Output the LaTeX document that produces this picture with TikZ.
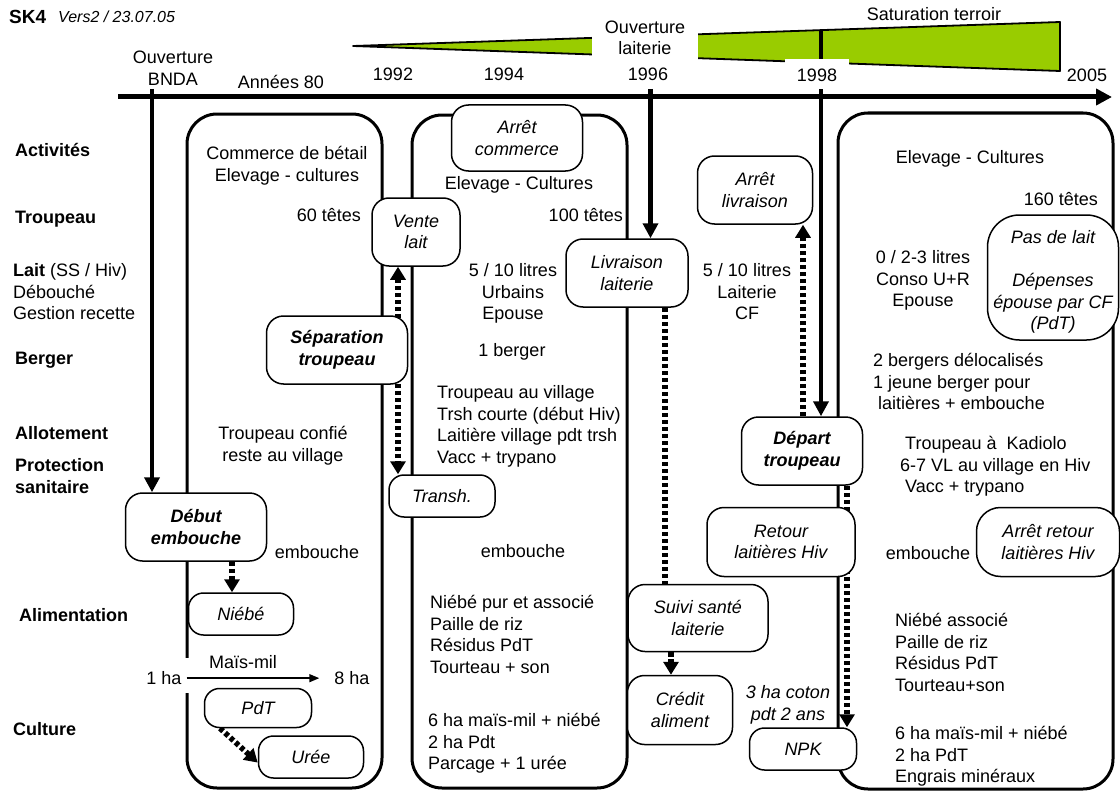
\documentclass[tikz,border=0pt]{standalone}
\usepackage{fontspec}
\setmainfont{Liberation Sans}
\usetikzlibrary{arrows.meta}
\pgfdeclarelayer{bg}
\pgfdeclarelayer{arr}
\pgfsetlayers{bg,arr,main}
\definecolor{wedgegreen}{HTML}{99CC00}
\newcommand{\fl}{\rule{0pt}{14pt}}
\begin{document}
\begin{tikzpicture}[x=1pt,y=-1pt,
  txt/.style={inner sep=0pt, font=\fontsize{18}{21.5}\selectfont, align=center},
  txtl/.style={txt, align=left, anchor=north west},
  lbl/.style={inner sep=0pt, font=\fontsize{18}{21.5}\selectfont\bfseries, anchor=base west},
  ev/.style={draw, line width=1.5pt, rounded corners=17pt, fill=white, inner sep=0pt, align=center, font=\fontsize{18}{21.5}\selectfont\itshape},
  evb/.style={ev, font=\fontsize{18}{21.5}\selectfont\bfseries\itshape},
  panel/.style={draw, line width=3pt, rounded corners=30pt},
  bigarrow/.style={line width=4.6pt, -{Triangle[length=15pt,width=15pt]}},
  dotarrow/.style={line width=5.5pt, dash pattern=on 4.3pt off 2.7pt},
  dottip/.style={-{Triangle[length=13pt,width=15pt]}},
  thinarrow/.style={line width=1.5pt, -{Triangle[length=10pt,width=8pt]}}
]
\useasboundingbox (0,0) rectangle (1120,792);

\begin{pgfonlayer}{bg}
  \fill[white] (0,0) rectangle (1120,792);
  % wedge
  \draw[line width=1.8pt, line join=round, fill=wedgegreen] (353,46) -- (1060,22) -- (1060,71) -- cycle;
  % time axis
  \coordinate (axs) at (118,97);
  \coordinate (axe) at (1112,97);
  \draw[line width=5pt, -{Triangle[length=16pt,width=16pt]}] (axs) -- (axe);
  % panels
  \draw[panel] (187,114) rectangle (382,788);
  \draw[panel] (412,115) rectangle (627,788);
  \draw[panel] (838,113) rectangle (1113,789);
  \fill[white] (182,658) rectangle (192,693);
\end{pgfonlayer}

% header
\node[anchor=base west, inner sep=0pt, font=\fontsize{19}{22}\selectfont\bfseries] (sk) at (9,24) {SK4};
\node[anchor=base west, inner sep=0pt, font=\fontsize{16}{19}\selectfont\itshape] (vers) at (58,23) {Vers2 / 23.07.05};
\node[txt, anchor=north] (obnda) at (173,49.6) {\fl Ouverture\\BNDA};
\node[txt, anchor=base] (a80) at (281,88.3) {Années 80};
\node[txt, anchor=base] (y92) at (393,81) {1992};
\node[txt, anchor=base] (y94) at (504,81) {1994};
\node[txt, anchor=base] (y96) at (648,81) {1996};
\node[txt, fill=white, minimum width=64pt, minimum height=30pt, text height=13.1pt, text depth=0pt] (y98) at (817,74.5) {1998};
\node[txt, anchor=base] (y05) at (1087,81.5) {2005};
\node[txt, anchor=base] (sat) at (934,20.6) {Saturation terroir};
\node[txt, fill=white, minimum width=106pt, minimum height=48pt] (olait) at (645,38) {Ouverture\\laiterie};

% row labels
\node[lbl] (lact) at (15,156.6) {Activités};
\node[lbl] (ltro) at (15,223.6) {Troupeau};
\node[txtl] (llait) at (13,262.6) {\fl\textbf{Lait} (SS / Hiv)\\Débouché\\Gestion recette};
\node[lbl] (lber) at (15,364.6) {Berger};
\node[lbl] (lall) at (15,439.6) {Allotement};
\node[txtl, font=\fontsize{18}{21.5}\selectfont\bfseries] (lpro) at (15,457.6) {\fl Protection\\sanitaire};
\node[lbl] (lali) at (19,621.6) {Alimentation};
\node[lbl] (lcul) at (13,735.6) {Culture};

% panel 1
\node[txt, anchor=north] (b1act) at (287,145.6) {\fl Commerce de bétail\\Elevage - cultures};
\node[txt, anchor=base east] (b1tr) at (361,221.6) {60 têtes};
\node[txt, anchor=north] (b1all) at (283,425.6) {\fl Troupeau confié\\reste au village};
\node[txt, anchor=base] (b1emb) at (317,558.6) {embouche};
\node[txt, anchor=base] (mais) at (243,668.6) {Maïs-mil};
\node[txt, anchor=base] (oneha) at (164,684.6) {1 ha};
\node[txt, anchor=base] (eightha) at (352,684.6) {8 ha};

% panel 2
\node[txt, anchor=base] (b2act) at (519,189.6) {Elevage - Cultures};
\node[txt, anchor=base east] (b2tr) at (623,221.6) {100 têtes};
\node[txt, anchor=north] (b2lait) at (513,262.6) {\fl 5 / 10 litres\\Urbains\\Epouse};
\node[txt, anchor=base] (b2berg) at (512,356.6) {1 berger};
\node[txtl] (b2all) at (437,384.6) {\fl Troupeau au village\\Trsh courte (début Hiv)\\Laitière village pdt trsh\\Vacc + trypano};
\node[txt, anchor=base] (b2emb) at (523,557.6) {embouche};
\node[txtl] (b2alim) at (430,594.6) {\fl Niébé pur et associé\\Paille de riz\\Résidus PdT\\Tourteau + son};
\node[txtl] (b2cult) at (428,712.6) {\fl 6 ha maïs-mil + niébé\\2 ha Pdt\\Parcage + 1 urée};

% middle
\node[txt, anchor=north] (mlait) at (747,262.6) {\fl 5 / 10 litres\\Laiterie\\CF};
\node[txt, anchor=north, font=\fontsize{18}{21.5}\selectfont\itshape] (coton) at (788,684.6) {\fl 3 ha coton\\pdt 2 ans};

% panel 3
\node[txt, anchor=base] (b3act) at (970,163.6) {Elevage - Cultures};
\node[txt, anchor=base east] (b3tr) at (1098,205.6) {160 têtes};
\node[txt, anchor=north] (b3lait) at (923,249.6) {\fl 0 / 2-3 litres\\Conso U+R\\Epouse};
\node[txtl] (b3berg) at (873,352.6) {\fl 2 bergers délocalisés\\1 jeune berger pour\\\hspace*{5pt}laitières + embouche};
\node[txtl] (b3all) at (900,435.6) {\fl\hspace*{5pt}Troupeau à\hspace{5pt} Kadiolo\\6-7 VL au village en Hiv\\\hspace*{5pt}Vacc + trypano};
\node[txt, anchor=base] (b3emb) at (928,559.6) {embouche};
\node[txtl] (b3alim) at (895,612.6) {\fl Niébé associé\\Paille de riz\\Résidus PdT\\Tourteau+son};
\node[txtl] (b3cult) at (895,725.6) {\fl 6 ha maïs-mil + niébé\\2 ha PdT\\Engrais minéraux};

% event nodes
\node[ev, minimum width=88pt, minimum height=68pt] (vente) at (416,232) {Vente\\lait};
\node[evb, minimum width=141pt, minimum height=68pt] (separ) at (337,350) {Séparation\\troupeau};
\node[ev, minimum width=106pt, minimum height=42pt, rounded corners=15pt] (transh) at (442,496) {Transh.};
\node[ev, minimum width=131pt, minimum height=66pt] (arretc) at (517,138) {Arrêt\\commerce};
\node[ev, minimum width=122pt, minimum height=68pt] (livr) at (627,273) {Livraison\\laiterie};
\node[ev, minimum width=140pt, minimum height=67pt] (suivi) at (698,618) {Suivi santé\\laiterie};
\node[ev, minimum width=105pt, minimum height=69pt] (credit) at (680,710) {Crédit\\aliment};
\node[ev, minimum width=115pt, minimum height=68pt] (arretl) at (755,190) {Arrêt\\livraison};
\node[evb, minimum width=121pt, minimum height=68pt] (depart) at (802,451) {Départ\\troupeau};
\node[ev, minimum width=148pt, minimum height=69pt] (retour) at (781,542) {Retour\\laitières Hiv};
\node[ev, minimum width=107pt, minimum height=42pt, rounded corners=15pt] (npk) at (803,749) {NPK};
\node[evb, minimum width=141pt, minimum height=68pt] (debut) at (196,527) {Début\\embouche};
\node[ev, minimum width=105pt, minimum height=42pt, rounded corners=15pt] (niebe) at (241,614) {Niébé};
\node[ev, minimum width=107pt, minimum height=39pt, rounded corners=15pt] (pdt) at (258,708) {PdT};
\node[ev, minimum width=105pt, minimum height=42pt, rounded corners=15pt] (uree) at (311,757) {Urée};
\node[ev, minimum width=131pt, minimum height=125pt, rounded corners=32pt] (pasdelait) at (1053,277.5) {\rule{0pt}{22pt}Pas de lait\\[21.5pt]Dépenses\\épouse par CF\\(PdT)};
\node[ev, minimum width=143pt, minimum height=69pt, rounded corners=24pt] (arretr) at (1048,542) {Arrêt retour\\laitières Hiv};

% connectors
\begin{pgfonlayer}{arr}
  \coordinate (bnda) at (152,89);
  \coordinate (t96) at (650.5,89);
  \coordinate (t98) at (821,30);
  \coordinate (dv) at (398,0);
  \coordinate (dl) at (665,0);
  \coordinate (ds) at (671,0);
  \coordinate (da) at (803,0);
  \coordinate (dn) at (847,0);
  \coordinate (dd) at (232,0);
  \draw[bigarrow] (bnda) -- (bnda |- debut.north);
  \draw[bigarrow] (t96) -- (t96 |- livr.north);
  \draw[bigarrow] (t98) -- (t98 |- depart.north);
  \draw[dotarrow, {Triangle[length=13pt,width=15pt]}-{Triangle[length=13pt,width=15pt]}] (dv |- vente.south) -- (dv |- transh.north);
  \draw[dotarrow] (dl |- livr.south) -- (dl |- suivi.north);
  \draw[dotarrow, dottip] (ds |- suivi.south) -- (ds |- credit.north);
  \draw[dotarrow, dottip] (da |- depart.north) -- (da |- arretl.south);
  \draw[dotarrow, dottip] (dn |- depart.south) -- (dn |- npk.north);
  \draw[dotarrow, dottip] (dd |- debut.south) -- (dd |- niebe.north);
  \draw[dotarrow, dottip] (pdt.208) -- (uree.186);
  \draw[thinarrow, shorten <=5pt, shorten >=15pt] (oneha.east) -- (eightha.west);
\end{pgfonlayer}
\end{tikzpicture}
\end{document}
